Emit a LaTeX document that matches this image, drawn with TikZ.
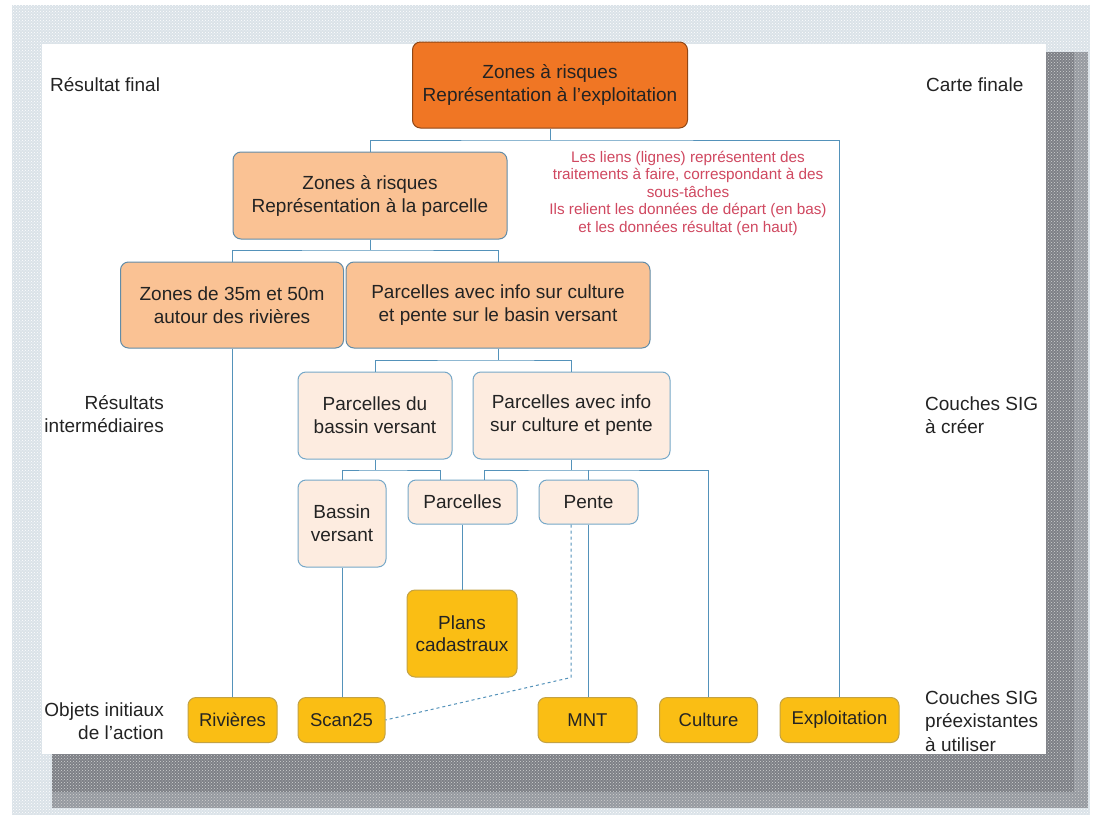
\documentclass[tikz,border=0pt]{standalone}
\usepackage{fontspec}
\setmainfont{Liberation Sans}
\usetikzlibrary{patterns}
\definecolor{linkc}{RGB}{84,146,186}
\definecolor{orangeA}{RGB}{240,118,36}
\definecolor{orangeB}{RGB}{250,194,148}
\definecolor{creamC}{RGB}{253,236,224}
\definecolor{yellowD}{RGB}{250,190,20}
\definecolor{noteC}{RGB}{208,72,96}
\definecolor{txt}{RGB}{35,35,35}
\definecolor{shadowA}{RGB}{150,154,160}
\definecolor{shadowC}{RGB}{125,128,134}
\definecolor{shadowB}{RGB}{218,226,232}
\begin{document}
\begin{tikzpicture}[x=1pt,y=-1pt,
  box/.style={rounded corners=8pt, line width=1pt, align=center, text=txt,
    font=\fontsize{19}{23}\selectfont, inner sep=0pt},
  lvlA/.style={box, fill=orangeA, draw=orangeA!60!black},
  lvlB/.style={box, fill=orangeB, draw=linkc!70!gray},
  lvlC/.style={box, fill=creamC, draw=linkc!80!white},
  lvlD/.style={box, fill=yellowD, draw=yellowD!55!gray, font=\fontsize{18.5}{22}\selectfont},
  link/.style={draw=linkc, line width=1pt},
  side/.style={text=txt, font=\fontsize{19}{23.5}\selectfont, inner sep=0pt},
]
% page and shadow
\useasboundingbox (0,0) rectangle (1093,817);
\fill[shadowB] (12,5) rectangle (1090,815);
\fill[pattern=crosshatch dots, pattern color=white] (12,5) rectangle (1090,815);
\fill[shadowA] (52,52) rectangle (1088,808);
\fill[shadowC] (52,52) rectangle (1074,792);
\fill[pattern=crosshatch dots, pattern color=gray!35] (52,52) rectangle (1088,808);
\fill[white] (42,44) rectangle (1046,754);

% nodes
\node[lvlA, minimum width=275, minimum height=86] (top) at (550,85)
  {Zones à risques\\Représentation à l’exploitation};
\node[lvlB, minimum width=274, minimum height=87] (n2) at (370,195.5)
  {Zones à risques\\Représentation à la parcelle};
\node[lvlB, minimum width=223, minimum height=86] (n3) at (232,305)
  {Zones de 35m et 50m\\autour des rivières};
\node[lvlB, minimum width=304, minimum height=86] (n4) at (498,305)
  {Parcelles avec info sur culture\\et pente sur le basin versant};
\node[lvlC, minimum width=154, minimum height=87] (n5) at (375,415.5)
  {Parcelles du\\bassin versant};
\node[lvlC, minimum width=197, minimum height=87] (n6) at (571.5,415.5)
  {Parcelles avec info\\sur culture et pente};
\node[lvlC, minimum width=88, minimum height=87] (bv) at (342,523.5)
  {Bassin\\versant};
\node[lvlC, minimum width=109, minimum height=44] (parc) at (462.5,502) {Parcelles};
\node[lvlC, minimum width=99, minimum height=44] (pente) at (588.5,502) {Pente};
\node[lvlD, minimum width=110, minimum height=87, font=\fontsize{19}{21.5}\selectfont] (plans) at (462,633.5)
  {Plans\\cadastraux};
\node[lvlD, minimum width=89, minimum height=45] (riv) at (232.5,720) {Rivières};
\node[lvlD, minimum width=87, minimum height=45] (scan) at (341.5,720) {Scan25};
\node[lvlD, minimum width=99, minimum height=45] (mnt) at (587.5,720) {MNT};
\node[lvlD, minimum width=98, minimum height=45] (cult) at (708.5,720) {Culture};
\node[lvlD, minimum width=119, minimum height=45] (expl) at (839.5,720) {Exploitation};

% junction coordinates
\coordinate (j1) at (550,140);
\coordinate (j2) at (370,250);
\coordinate (j4) at (498,360);
\coordinate (j5) at (375,470);
\coordinate (j6) at (571.5,470);

% connectors
\draw[link] (top.south) -- (j1);
\draw[link] (n2.north) |- (j1) -| (expl.north);
\draw[link] (n2.south) -- (j2);
\draw[link] (n3.north) |- (j2) -| (n4.north);
\draw[link] (n4.south) -- (j4);
\draw[link] (n5.north) |- (j4) -| (n6.north);
\draw[link] (n5.south) -- (j5);
\draw[link] (bv.north) |- (j5) -| ([xshift=-22.5pt]parc.north);
\draw[link] (n6.south) -- (j6);
\draw[link] ([xshift=21.5pt]parc.north) |- (j6) -| (cult.north);
\draw[link] (pente.north) -- (pente.north |- j6);
\draw[link] (n3.south) -- (n3.south |- riv.north);
\draw[link] (bv.south) -- (bv.south |- scan.north);
\draw[link] (parc.south) -- (parc.south |- plans.north);
\draw[link] (pente.south) -- (pente.south |- mnt.north);
\draw[link, dashed] ([xshift=-17.5pt]pente.south) -- ++(0,153) -- (scan.east);

% note
\node[text=noteC, font=\fontsize{15.3}{17.5}\selectfont, align=center, inner sep=0pt] (note) at (688,193)
  {Les liens (lignes) représentent des\\traitements à faire, correspondant à des\\sous-tâches\\Ils relient les données de départ (en bas)\\et les données résultat (en haut)};

% side labels
\node[side, anchor=west] (l1) at (50,85) {Résultat final};
\node[side, anchor=west] (r1) at (926,85) {Carte finale};
\node[side, anchor=east, align=right] (l2) at (164,414) {Résultats\\intermédiaires};
\node[side, anchor=west, align=left] (r2) at (925,415) {Couches SIG\\à créer};
\node[side, anchor=east, align=right] (l3) at (164,721) {Objets initiaux\\de l’action};
\node[side, anchor=west, align=left] (r3) at (925,721) {Couches SIG\\préexistantes\\à utiliser};
\end{tikzpicture}
\end{document}
